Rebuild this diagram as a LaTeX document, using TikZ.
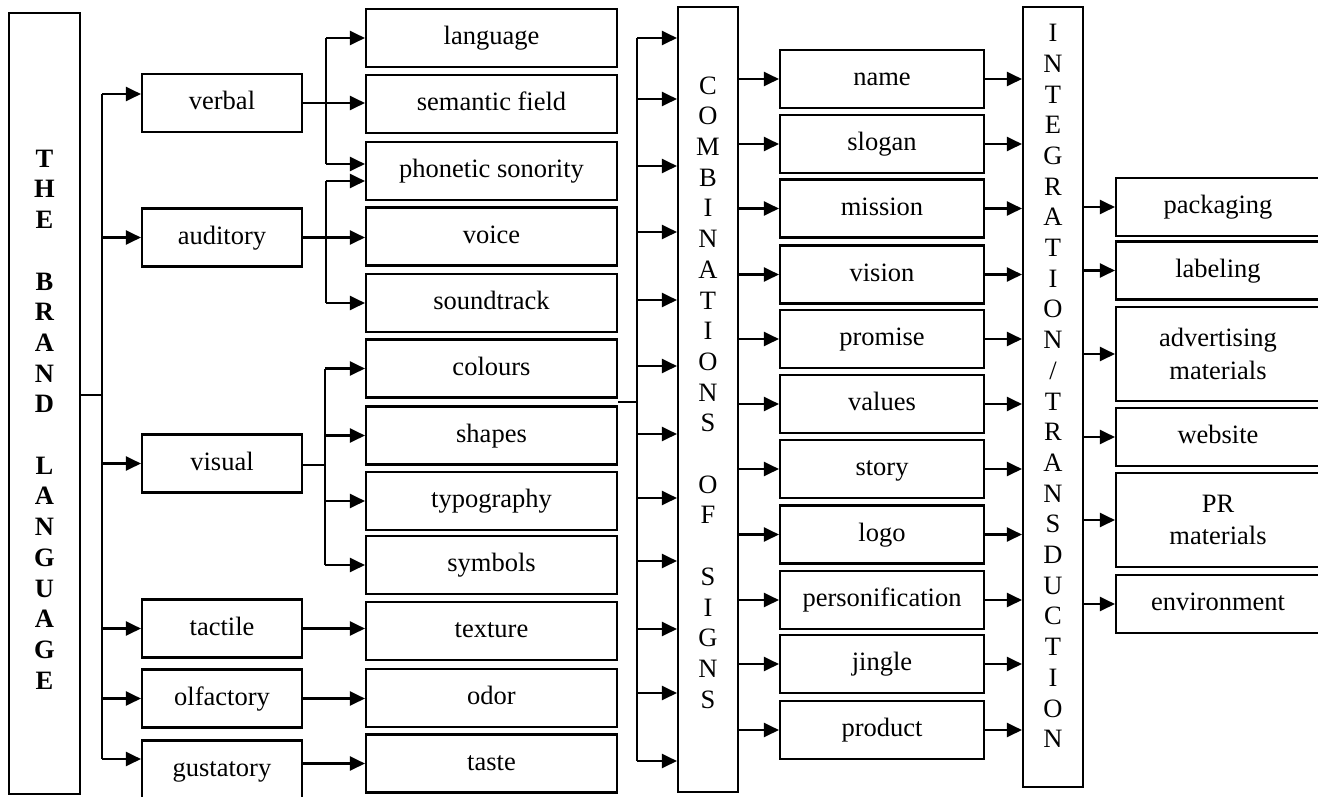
\documentclass[tikz,border=0pt]{standalone}
\usepackage{fontspec}
\setmainfont{Liberation Serif}
\usetikzlibrary{arrows.meta}
\begin{document}
\begin{tikzpicture}[x=1pt,y=-1pt,
  txt/.style={font=\fontsize{26.5}{30.7}\selectfont,align=center,inner sep=0pt},
  box/.style={txt,draw,line width=2.1pt,minimum height=58pt},
  oneline/.style={text height=19pt,text depth=6pt},
  colA/.style={box,oneline,minimum width=160pt},
  colB/.style={box,oneline,minimum width=251pt},
  colC/.style={box,oneline,minimum width=204pt},
  colD/.style={box,minimum width=204pt},
  tallbox/.style={draw,line width=2.1pt,inner sep=0pt},
  wire/.style={line width=2.1pt},
  link/.style={line width=2.1pt,-{Triangle[length=15pt,width=14pt]}}]
\useasboundingbox (0,0) rectangle (1318,796);
\clip (0,0) rectangle (1318,796);

% root column
\node[tallbox,minimum width=71pt,minimum height=781pt] (brand) at (44.5,403.5) {};
\node[txt,font=\fontsize{26.5}{30.7}\selectfont\bfseries] (brandtxt) at (44.5,419.5)
  {T\\H\\E\\[30.7pt]B\\R\\A\\N\\D\\[30.7pt]L\\A\\N\\G\\U\\A\\G\\E};

% sensory channels
\node[colA] (verbal)    at (222,103)   {verbal};
\node[colA] (auditory)  at (222,237.5) {auditory};
\node[colA] (visual)    at (222,463.5) {visual};
\node[colA] (tactile)   at (222,628.5) {tactile};
\node[colA] (olfactory) at (222,698.5) {olfactory};
\node[colA] (gustatory) at (222,769.5) {gustatory};

% sign elements
\node[colB] (language)   at (491.5,38)    {language};
\node[colB] (semantic)   at (491.5,104)   {semantic field};
\node[colB] (phonetic)   at (491.5,171)   {phonetic sonority};
\node[colB] (voice)      at (491.5,236.5) {voice};
\node[colB] (soundtrack) at (491.5,303)   {soundtrack};
\node[colB] (colours)    at (491.5,368.5) {colours};
\node[colB] (shapes)     at (491.5,435.5) {shapes};
\node[colB] (typography) at (491.5,501)   {typography};
\node[colB] (symbols)    at (491.5,565)   {symbols};
\node[colB] (texture)    at (491.5,631)   {texture};
\node[colB] (odor)       at (491.5,698)   {odor};
\node[colB] (taste)      at (491.5,763.5) {taste};

% combinations column
\node[tallbox,minimum width=60pt,minimum height=785pt] (comb) at (708,399.5) {};
\node[txt] (combtxt) at (708,392.5)
  {C\\O\\M\\B\\I\\N\\A\\T\\I\\O\\N\\S\\[30.7pt]O\\F\\[30.7pt]S\\I\\G\\N\\S};

% brand components
\node[colC] (name)     at (882,79)    {name};
\node[colC] (slogan)   at (882,144)   {slogan};
\node[colC] (mission)  at (882,208.5) {mission};
\node[colC] (vision)   at (882,274.5) {vision};
\node[colC] (promise)  at (882,339)   {promise};
\node[colC] (values)   at (882,404)   {values};
\node[colC] (story)    at (882,469)   {story};
\node[colC] (logo)     at (882,534.5) {logo};
\node[colC] (person)   at (882,600)   {personification};
\node[colC] (jingle)   at (882,664)   {jingle};
\node[colC] (product)  at (882,730)   {product};

% integration column
\node[tallbox,minimum width=60pt,minimum height=780pt] (integ) at (1053,397) {};
\node[txt] (integtxt) at (1053,386)
  {I\\N\\T\\E\\G\\R\\A\\T\\I\\O\\N\\/\\T\\R\\A\\N\\S\\D\\U\\C\\T\\I\\O\\N};

% carriers
\node[colD,oneline] (packaging)   at (1218,207)   {packaging};
\node[colD,oneline] (labeling)    at (1218,270.5) {labeling};
\node[colD,minimum height=94pt] (advertising) at (1218,354) {advertising\\[2pt]materials};
\node[colD,oneline] (website)     at (1218,437)   {website};
\node[colD,minimum height=94pt] (pr) at (1218,520) {PR\\[2pt]materials};
\node[colD,oneline] (environment) at (1218,604)   {environment};

% root trunk
\coordinate (jn)   at (102,395);
\coordinate (tTop) at (102,94);
\coordinate (tBot) at (102,759);
\draw[wire] (brand.east |- jn) -- (jn);
\draw[wire] (tTop) -- (tBot);
\draw[link] (tTop) -- (tTop -| verbal.west);
\foreach \n in {auditory,visual,tactile,olfactory}
  \draw[link] (tTop |- \n) -- (\n.west);
\draw[link] (tBot) -- (tBot -| gustatory.west);

% verbal branch
\coordinate (vj)  at (326,103);
\coordinate (ph1) at (326,164);
\draw[link] (verbal.east) -- (verbal.east -| semantic.west);
\draw[wire] (vj |- language) -- (ph1);
\draw[link] (vj |- language) -- (language.west);
\draw[link] (ph1) -- (ph1 -| phonetic.west);

% auditory branch
\coordinate (ph2) at (326,181);
\draw[link] (auditory.east) -- (auditory.east -| voice.west);
\draw[wire] (ph2) -- (ph2 |- soundtrack);
\draw[link] (ph2) -- (ph2 -| phonetic.west);
\draw[link] (ph2 |- soundtrack) -- (soundtrack.west);

% visual branch
\coordinate (vs) at (325,465);
\draw[wire] (visual.east |- vs) -- (vs);
\draw[wire] (vs |- colours) -- (vs |- symbols);
\foreach \n in {colours,shapes,typography,symbols}
  \draw[link] (vs |- \n) -- (\n.west);

% single-element channels
\draw[link] (tactile.east) -- (tactile.east -| texture.west);
\draw[link] (olfactory.east) -- (olfactory.east -| odor.west);
\draw[link] (taste.west -| gustatory.east) -- (taste.west);

% collector into the combinations column
\coordinate (cs) at (637,402);
\draw[wire] (colours.east |- cs) -- (cs);
\foreach \y [count=\i] in {38,99,166,232,300,366,434,498,561,629,693,761}
  \coordinate (cin\i) at (637,\y);
\draw[wire] (cin1) -- (cin12);
\foreach \i in {1,...,12}
  \draw[link] (cin\i) -- (cin\i -| comb.west);

% combinations -> components -> integration
\foreach \n in {name,slogan,mission,vision,promise,values,story,logo,person,jingle,product}{
  \draw[link] (comb.east |- \n) -- (\n.west);
  \draw[link] (\n.east) -- (\n.east -| integ.west);
}

% integration -> carriers
\foreach \n in {packaging,labeling,advertising,website,pr,environment}
  \draw[link] (integ.east |- \n) -- (\n.west);
\end{tikzpicture}
\end{document}
